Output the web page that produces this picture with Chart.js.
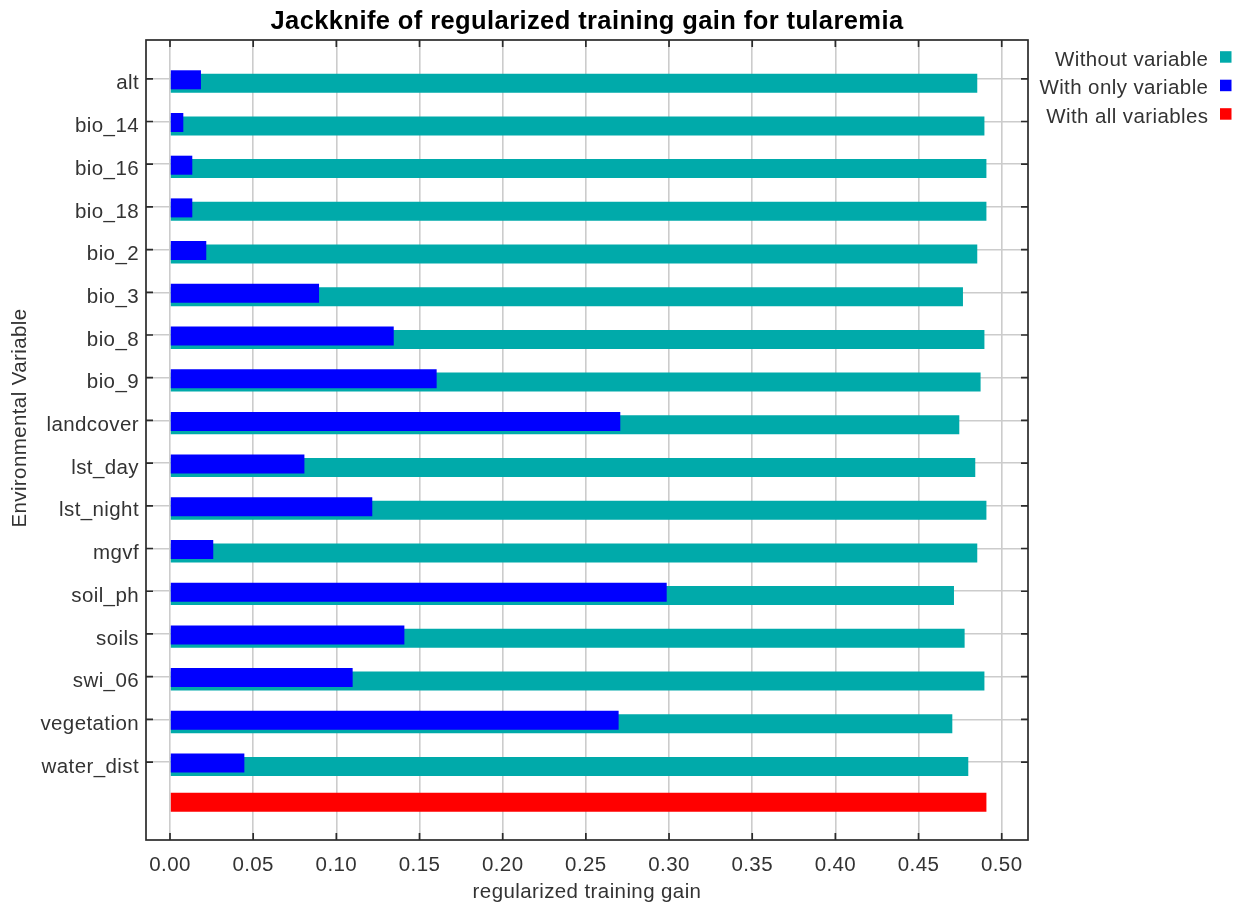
<!DOCTYPE html>
<html>
<head>
<meta charset="utf-8">
<title>Jackknife of regularized training gain for tularemia</title>
<script src="https://cdn.jsdelivr.net/npm/chart.js@4.4.1/dist/chart.umd.min.js"></script>
<style>
  html, body { margin: 0; padding: 0; background: #ffffff; }
  #wrap { width: 1249px; height: 908px; position: relative; }
  canvas { display: block; }
</style>
</head>
<body>
<div id="wrap"><canvas id="chart" width="1249" height="908"></canvas></div>
<script>
// Environmental variables, in plot order (top to bottom)
const categories = [
  'alt', 'bio_14', 'bio_16', 'bio_18', 'bio_2', 'bio_3', 'bio_8', 'bio_9',
  'landcover', 'lst_day', 'lst_night', 'mgvf', 'soil_ph', 'soils', 'swi_06',
  'vegetation', 'water_dist'
];

// Regularized training gain of the model built without each variable
const withoutVariable = [
  0.4853, 0.4896, 0.4908, 0.4908, 0.4853, 0.4767, 0.4896, 0.4873,
  0.4745, 0.4841, 0.4908, 0.4853, 0.4713, 0.4777, 0.4896, 0.4703, 0.4799
];

// Regularized training gain of the model built with only each variable
const withOnlyVariable = [
  0.0186, 0.0080, 0.0134, 0.0134, 0.0218, 0.0896, 0.1345, 0.1603,
  0.2707, 0.0808, 0.1216, 0.0260, 0.2986, 0.1409, 0.1098, 0.2697, 0.0447
];

// Gain of the full model (all variables)
const withAllVariables = [0.4908];

// Gain axis tick values
const xTicks = [0.00, 0.05, 0.10, 0.15, 0.20, 0.25, 0.30, 0.35, 0.40, 0.45, 0.50];

const seriesLabels = ['Without variable', 'With only variable', 'With all variables'];
const seriesColors = ['#00aaaa', '#0000ff', '#ff0000'];

const FONT = "'Liberation Sans', Arial, Helvetica, sans-serif";
const TEXT = '#333333';

// Row index of the full-model bar sits below the last variable
const allRow = categories.length;

// Frame with inward tick marks, rotated axis title, legend, text spacing
const decorations = {
  id: 'decorations',
  beforeUpdate(chart) { chart.ctx.letterSpacing = '0.4px'; },
  beforeDraw(chart) {
    const ctx = chart.ctx;
    ctx.letterSpacing = '0.4px';
    ctx.save();
    ctx.fillStyle = '#ffffff';
    ctx.fillRect(0, 0, chart.width, chart.height);
    ctx.restore();
  },
  afterDraw(chart) {
    const { ctx, chartArea: a, scales: { x, y } } = chart;
    ctx.save();
    ctx.strokeStyle = '#2b2b2b';
    ctx.lineWidth = 1.7;
    const len = 7;
    ctx.beginPath();
    x.ticks.forEach(t => {
      const px = x.getPixelForValue(t.value);
      ctx.moveTo(px, a.top); ctx.lineTo(px, a.top + len);
      ctx.moveTo(px, a.bottom); ctx.lineTo(px, a.bottom - len);
    });
    y.ticks.forEach(t => {
      const py = y.getPixelForValue(t.value);
      ctx.moveTo(a.left, py); ctx.lineTo(a.left + len, py);
      ctx.moveTo(a.right, py); ctx.lineTo(a.right - len, py);
    });
    ctx.stroke();
    ctx.strokeRect(a.left, a.top, a.right - a.left, a.bottom - a.top);

    // vertical axis title
    ctx.save();
    ctx.translate(20, 418);
    ctx.rotate(-Math.PI / 2);
    ctx.font = '20.5px ' + FONT;
    ctx.fillStyle = TEXT;
    ctx.textAlign = 'center';
    ctx.textBaseline = 'middle';
    ctx.fillText('Environmental Variable', 0, 0);
    ctx.restore();

    // legend: label text followed by a colour square
    ctx.font = '20.5px ' + FONT;
    ctx.textAlign = 'right';
    ctx.textBaseline = 'middle';
    chart.data.datasets.forEach((ds, i) => {
      const cy = 60.2 + i * 28.5;
      ctx.fillStyle = TEXT;
      ctx.fillText(ds.label, 1208.4, cy);
      ctx.fillStyle = ds.backgroundColor;
      ctx.fillRect(1220, cy - 9, 11.5, 11.5);
    });
    ctx.restore();
  }
};

new Chart(document.getElementById('chart'), {
  type: 'bar',
  data: {
    datasets: [
      {
        label: seriesLabels[0],
        data: withoutVariable.map((v, i) => ({ x: v, y: i })),
        backgroundColor: seriesColors[0],
        order: 3
      },
      {
        label: seriesLabels[1],
        data: withOnlyVariable.map((v, i) => ({ x: v, y: i })),
        backgroundColor: seriesColors[1],
        order: 2
      },
      {
        label: seriesLabels[2],
        data: withAllVariables.map(v => ({ x: v, y: allRow })),
        backgroundColor: seriesColors[2],
        order: 1
      }
    ]
  },
  options: {
    indexAxis: 'y',
    responsive: false,
    animation: false,
    categoryPercentage: 0.239,
    barPercentage: 5.59,
    borderWidth: 0,
    layout: { padding: { left: 0, right: 221, top: 0, bottom: 0 } },
    plugins: {
      legend: { display: false },
      tooltip: { enabled: false },
      title: {
        display: true,
        fullSize: false,
        text: 'Jackknife of regularized training gain for tularemia',
        color: '#000000',
        font: { family: FONT, size: 25.5, weight: 'bold' },
        padding: { top: 6.6, bottom: 2.8 }
      }
    },
    scales: {
      x: {
        type: 'linear',
        position: 'bottom',
        min: -0.01443,
        max: 0.5158,
        afterBuildTicks: s => { s.ticks = xTicks.map(v => ({ value: v })); },
        afterFit: s => { s.height = 68; },
        grid: { color: '#cccccc', lineWidth: 1.6, drawTicks: false },
        border: { display: false },
        ticks: {
          padding: 13,
          maxRotation: 0,
          autoSkip: false,
          color: TEXT,
          font: { family: FONT, size: 20.5 },
          callback: v => Number(v).toFixed(2)
        },
        title: {
          display: true,
          text: 'regularized training gain',
          color: TEXT,
          font: { family: FONT, size: 20.5 },
          padding: { top: 0, bottom: 3.3 }
        }
      },
      y: {
        type: 'linear',
        reverse: true,
        offset: false,
        bounds: 'data',
        min: -0.932,
        max: 17.803,
        afterBuildTicks: s => { s.ticks = categories.map((c, i) => ({ value: i - 0.023 })); },
        afterFit: s => { s.width = 146; },
        grid: { color: '#cccccc', lineWidth: 1.6, drawTicks: false, offset: false },
        border: { display: false },
        ticks: {
          padding: 7,
          labelOffset: 5,
          autoSkip: false,
          color: TEXT,
          font: { family: FONT, size: 20.5 },
          callback: (v, i) => categories[i]
        }
      }
    }
  },
  plugins: [decorations]
});
</script>
</body>
</html>
